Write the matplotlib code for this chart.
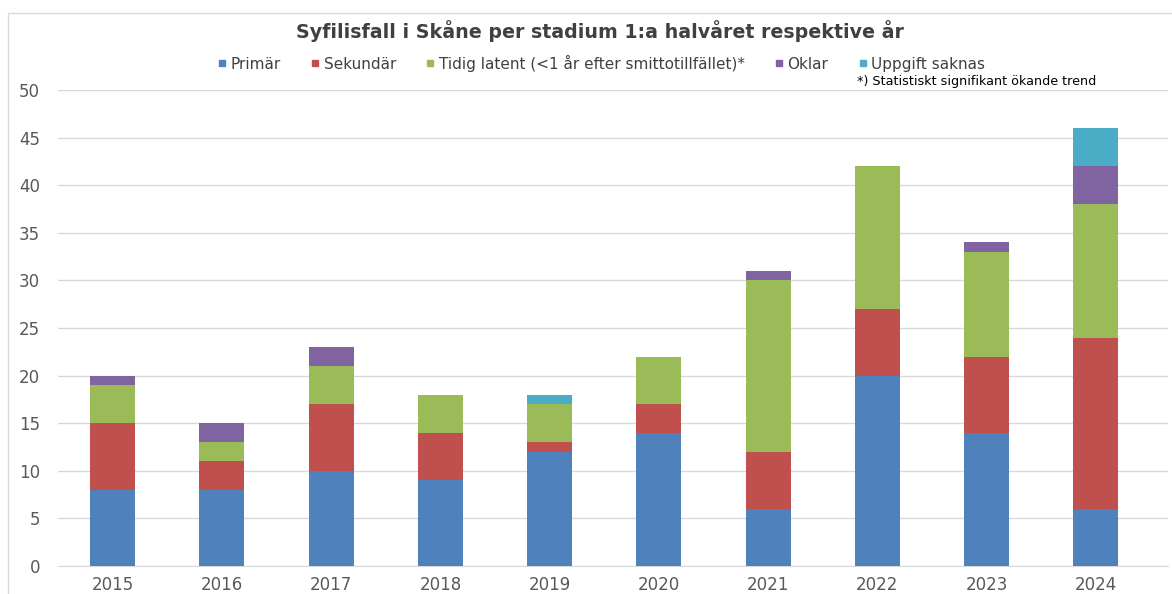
import matplotlib.pyplot as plt
from matplotlib.lines import Line2D
from matplotlib.patches import Rectangle
import numpy as np

plt.rcParams['font.family'] = ['DejaVu Sans']

# Data
years = ["2015", "2016", "2017", "2018", "2019", "2020", "2021", "2022", "2023", "2024"]
primar = [8, 8, 10, 9, 12, 14, 6, 20, 14, 6]
sekundar = [7, 3, 7, 5, 1, 3, 6, 7, 8, 18]
tidig_latent = [4, 2, 4, 4, 4, 5, 18, 15, 11, 14]
oklar = [1, 2, 2, 0, 0, 0, 1, 0, 1, 4]
uppgift_saknas = [0, 0, 0, 0, 1, 0, 0, 0, 0, 4]

labels = ["Primär", "Sekundär", "Tidig latent (<1 år efter smittotillfället)*",
          "Oklar", "Uppgift saknas"]
colors = ["#4F81BD", "#C0504D", "#9BBB59", "#8064A2", "#4BACC6"]
series = [primar, sekundar, tidig_latent, oklar, uppgift_saknas]

fig = plt.figure(figsize=(11.72, 5.94), dpi=100)
ax = fig.add_axes([58 / 1172, 1 - 566 / 594, (1168 - 58) / 1172, (566 - 90) / 594])

x = np.arange(len(years))
bottom = np.zeros(len(years))
for vals, col, lab in zip(series, colors, labels):
    ax.bar(x, vals, width=0.41, bottom=bottom, color=col, label=lab, zorder=3)
    bottom += np.array(vals)

ax.set_xlim(-0.5, 9.66)
ax.set_ylim(0, 50)
ax.set_yticks(range(0, 51, 5))
ax.set_xticks(x)
ax.set_xticklabels(years)
ax.yaxis.grid(True, color="#D9D9D9", linewidth=1, zorder=0)
for s in ["top", "right", "left"]:
    ax.spines[s].set_visible(False)
ax.spines["bottom"].set_color("#D9D9D9")
ax.tick_params(axis="both", length=0, labelsize=12, colors="#595959")
ax.tick_params(axis="x", pad=7)
ax.tick_params(axis="y", pad=13)

fig.text(600 / 1172, 1 - 31 / 594, "Syfilisfall i Skåne per stadium 1:a halvåret respektive år",
         ha="center", va="center", fontsize=13.7, fontweight="bold", color="#404040")

handles = [Line2D([], [], marker="s", linestyle="", markersize=5, color=c) for c in colors]
fig.legend(handles, labels, loc="center", bbox_to_anchor=(601 / 1172, 1 - 63 / 594), ncol=5,
           frameon=False, fontsize=11, handlelength=0.7, handletextpad=0.2,
           columnspacing=1.9, labelcolor="#404040")

fig.text(857 / 1172, 1 - 81 / 594, "*) Statistiskt signifikant ökande trend",
         ha="left", va="center", fontsize=9.2, color="black")

# light border around the chart area
fig.patches.append(Rectangle((8 / 1172, -0.01), 1.02, 1 - 13 / 594 + 0.01,
                             transform=fig.transFigure, fill=False,
                             edgecolor="#D9D9D9", linewidth=1))

fig.savefig("out.png", dpi=100)
